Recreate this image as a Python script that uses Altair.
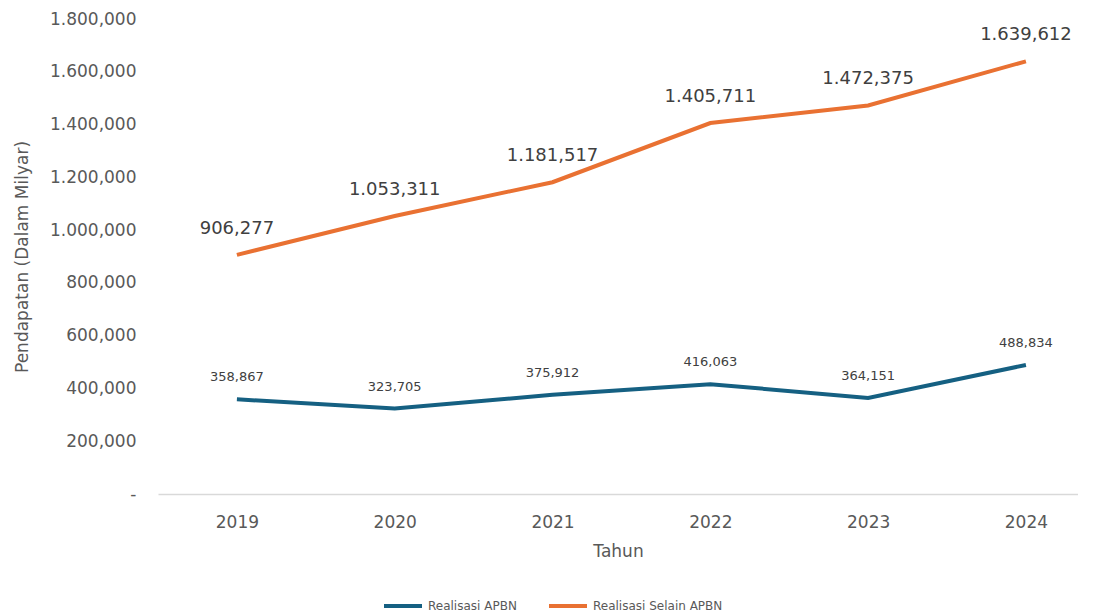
import altair as alt
import pandas as pd

years = [2019, 2020, 2021, 2022, 2023, 2024]
apbn = [358867, 323705, 375912, 416063, 364151, 488834]
selain = [906277, 1053311, 1181517, 1405711, 1472375, 1639612]
series = ["Realisasi APBN", "Realisasi Selain APBN"]
colors = ["#156082", "#E97132"]


def fmt(v):
    s = f"{v:,}"
    if v >= 1_000_000:
        s = s.replace(",", ".", 1)
    return s


rows = []
for y, v in zip(years, apbn):
    rows.append({"Tahun": y, "Nilai": v, "Seri": series[0], "Label": fmt(v)})
for y, v in zip(years, selain):
    rows.append({"Tahun": y, "Nilai": v, "Seri": series[1], "Label": fmt(v)})
df = pd.DataFrame(rows)

FONT = "DejaVu Sans"
GREY = "#595959"

base = alt.Chart(df)

x = alt.X(
    "Tahun:Q",
    title="Tahun",
    scale=alt.Scale(domain=[2018.5, 2024.33], nice=False, zero=False),
    axis=alt.Axis(
        values=years,
        format="d",
        labelAngle=0,
        ticks=False,
        grid=False,
        domainColor="#d9d9d9",
        domainWidth=1.5,
        labelFont=FONT,
        labelFontSize=17,
        labelColor=GREY,
        labelPadding=20,
        labelFlush=False,
        titleFont=FONT,
        titleFontSize=17,
        titleColor=GREY,
        titleFontWeight="normal",
        titlePadding=13,
    ),
)
y = alt.Y(
    "Nilai:Q",
    title="Pendapatan (Dalam Milyar)",
    scale=alt.Scale(domain=[0, 1800000], nice=False),
    axis=alt.Axis(
        values=[0, 200000, 400000, 600000, 800000, 1000000, 1200000, 1400000, 1600000, 1800000],
        labelExpr="datum.value == 0 ? '-' : replace(format(datum.value, ','), ',', datum.value >= 1000000 ? '.' : ',')",
        grid=False,
        ticks=False,
        domain=False,
        labelFont=FONT,
        labelFontSize=17,
        labelColor=GREY,
        labelPadding=22,
        titleFont=FONT,
        titleFontSize=17,
        titleColor=GREY,
        titleFontWeight="normal",
        titlePadding=18,
    ),
)
color = alt.Color(
    "Seri:N",
    title=None,
    scale=alt.Scale(domain=series, range=colors),
    legend=alt.Legend(
        orient="none",
        direction="horizontal",
        legendX=224,
        legendY=566,
        symbolType="stroke",
        symbolSize=1444,
        symbolStrokeWidth=4,
        labelFontSize=12,
        labelColor=GREY,
        labelFont=FONT,
        columnPadding=24,
        symbolOffset=0,
    ),
)

lines = base.mark_line(strokeWidth=4).encode(x=x, y=y, color=color)

lab_orange = base.transform_filter(alt.datum.Seri == series[1]).mark_text(
    fontSize=18, dy=-26, color="#404040", font=FONT
).encode(x=x, y=y, text="Label:N")

lab_blue = base.transform_filter(alt.datum.Seri == series[0]).mark_text(
    fontSize=13, dy=-22, color="#404040", font=FONT
).encode(x=x, y=y, text="Label:N")

chart = (
    alt.layer(lines, lab_orange, lab_blue)
    .properties(width=920, height=475, padding={"left": 5, "top": 2, "right": 0, "bottom": 0})
    .configure(font=FONT, view=alt.ViewConfig(strokeWidth=0, stroke="transparent"))
)

chart.save("out.html", embed_options={"renderer": "svg", "actions": False})
